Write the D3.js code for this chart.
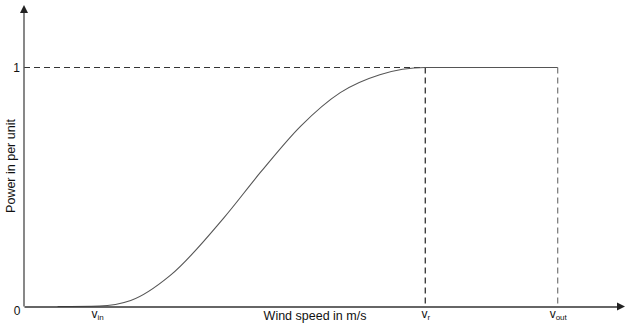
<!DOCTYPE html>
<html>
<head>
<meta charset="utf-8">
<title>Wind turbine power curve</title>
<style>
  body { margin: 0; background: #fff; }
  svg text { font-family: "Liberation Sans", Arial, sans-serif; fill: #111; }
</style>
</head>
<body>
<svg></svg>
<script src="https://d3js.org/d3.v7.min.js"></script>
<script>
// power curve (wind speed, power in per unit)
var windSpeed = [1.7, 3.8, 5.4, 7.4, 10.1, 12.0, 14.0, 16.0, 18.0, 20.3, 27.0];
var power = [0, 0.002, 0.025, 0.13, 0.37, 0.565, 0.755, 0.895, 0.97, 1, 1];
var speedMarks = [3.7, 20.3, 27.0];          // v_in, v_r, v_out
var speedLabels = [['v', 'in'], ['v', 'r'], ['v', 'out']];
var powerTicks = [1];
var axisTitles = ['Wind speed in m/s', 'Power in per unit'];

var width = 625, height = 323,
    x0 = 24, y0 = 306.5;

var xScale = d3.scaleLinear().domain([0, 30]).range([x0, 617]),
    yScale = d3.scaleLinear().domain([0, 1]).range([y0, 67.5]);

var svg = d3.select('svg')
    .attr('width', width)
    .attr('height', height);

var vr = speedMarks[1], vout = speedMarks[2];

// dashed guides
svg.append('line')
    .attr('x1', xScale(0)).attr('x2', xScale(vr))
    .attr('y1', yScale(1)).attr('y2', yScale(1))
    .attr('stroke', '#333').attr('stroke-width', 1)
    .attr('stroke-dasharray', '6,4');
svg.append('line')
    .attr('x1', xScale(vr)).attr('x2', xScale(vr))
    .attr('y1', yScale(1)).attr('y2', yScale(0))
    .attr('stroke', '#222').attr('stroke-width', 1.2)
    .attr('stroke-dasharray', '6,4');
svg.append('line')
    .attr('x1', xScale(vout)).attr('x2', xScale(vout))
    .attr('y1', yScale(1)).attr('y2', yScale(0))
    .attr('stroke', '#777').attr('stroke-width', 1.2)
    .attr('stroke-dasharray', '6,4');

// power curve
var pts = windSpeed.map((d, i) => [d, power[i]]);
var line = d3.line()
    .x(d => xScale(d[0]))
    .y(d => yScale(d[1]))
    .curve(d3.curveMonotoneX);
svg.append('path').attr('d', line(pts))
    .attr('fill', 'none')
    .attr('stroke', '#555')
    .attr('stroke-width', 1.1);

// x axis
var xAxis = svg.append('g')
    .attr('transform', `translate(0,${y0})`)
    .call(d3.axisBottom(xScale).tickValues(speedMarks).tickSize(0).tickSizeOuter(0).tickPadding(3));
xAxis.select('.domain').attr('stroke', '#333').attr('stroke-width', 1.4);
xAxis.selectAll('.tick text').each(function (d, i) {
    var t = d3.select(this).text('').attr('font-size', 12).attr('fill', '#111');
    t.append('tspan').text(speedLabels[i][0]);
    t.append('tspan').attr('dy', 2).attr('font-size', 8).text(speedLabels[i][1]);
});
xAxis.append('path')
    .attr('d', `M${xScale.range()[1]},-4L${xScale.range()[1] + 8},0L${xScale.range()[1]},4Z`)
    .attr('fill', '#222');

// y axis
var yTop = 13;
var yAxis = svg.append('g')
    .attr('transform', `translate(${x0},0)`)
    .call(d3.axisLeft(yScale).tickValues(powerTicks).tickSize(0).tickSizeOuter(0).tickPadding(4).tickFormat(d3.format('d')));
yAxis.select('.domain').attr('d', `M0,${y0}V${yTop}`)
    .attr('stroke', '#555').attr('stroke-width', 1.4);
yAxis.selectAll('.tick text').attr('font-size', 12).attr('fill', '#111');
yAxis.append('path')
    .attr('d', `M-4,${yTop}L0,${yTop - 8}L4,${yTop}Z`)
    .attr('fill', '#222');

// origin label
svg.append('text')
    .attr('x', 17).attr('y', 315)
    .attr('text-anchor', 'middle')
    .attr('font-size', 12)
    .text('0');

// axis titles
svg.append('text')
    .attr('x', 315).attr('y', 320)
    .attr('text-anchor', 'middle')
    .attr('font-size', 12.5)
    .text(axisTitles[0]);
svg.append('text')
    .attr('transform', 'translate(15,166) rotate(-90)')
    .attr('text-anchor', 'middle')
    .attr('font-size', 12.5)
    .text(axisTitles[1]);
</script>
</body>
</html>
